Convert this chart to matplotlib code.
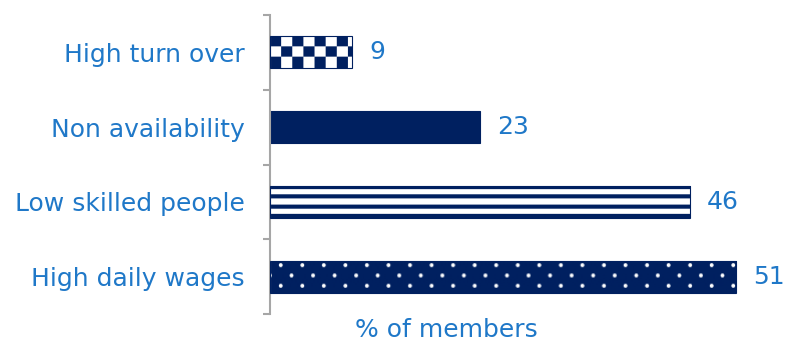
import numpy as np
import matplotlib.pyplot as plt
from matplotlib.ticker import FixedLocator

## Data
reasons = ['High turn over', 'Non availability', 'Low skilled people', 'High daily wages']
members = [9, 23, 46, 51]
fills = ['checker', 'solid', 'stripes', 'dots']

NAVY = np.array([0, 32, 96]) / 255.
WHITE = np.array([1., 1., 1.])
BLUE = '#1F78C8'
GREY = '#A6A6A6'
FS = 18


def texture(kind, w, h):
    # build a w x h pixel RGB fill (navy with white pattern)
    yy, xx = np.mgrid[0:h, 0:w] + 0.5
    if kind == 'checker':
        a = ((xx // 11 + yy // (h / 3.)) % 2 == 1).astype(float)
    elif kind == 'stripes':
        f = 0.4
        p = h / (3 + f)
        a = ((yy % p) >= p * f).astype(float)
    elif kind == 'dots':
        dx, dy = 21.5, 10.
        r = np.floor(yy / dy)
        cy = (r + 0.5) * dy
        off = (r % 2) * dx / 2
        cx = (np.floor((xx - off) / dx) + 0.5) * dx + off
        d = np.hypot(xx - cx, yy - cy)
        a = np.clip(2.4 - d, 0, 1)
    else:
        a = np.zeros((h, w))
    return NAVY * (1 - a[..., None]) + WHITE * a[..., None]


fig = plt.figure(figsize=(7.85, 3.46), dpi=100)
ax = fig.add_axes([0.344, 0.0925, 0.652, 0.864])

ypos = np.arange(len(reasons))
bars = ax.barh(ypos, members, height=0.43, color=NAVY, edgecolor=NAVY,
               linewidth=0.8, zorder=2)
ax.set_xlim(0, 56)
ax.set_ylim(len(reasons) - 0.5, -0.5)

# patterned fills, clipped to each bar
for patch, kind in zip(bars, fills):
    if kind == 'solid':
        continue
    x0, y0 = patch.get_x(), patch.get_y()
    x1, y1 = x0 + patch.get_width(), y0 + patch.get_height()
    (px0, py0), (px1, py1) = ax.transData.transform([(x0, y0), (x1, y1)])
    w, h = int(round(abs(px1 - px0))), int(round(abs(py1 - py0)))
    im = ax.imshow(texture(kind, w, h), extent=(x0, x1, y1, y0),
                   origin='upper', aspect='auto', interpolation='bilinear',
                   zorder=2.5)
    im.set_clip_path(patch)
    patch.set_facecolor('none')
    patch.set_zorder(3)

ax.set_xlim(0, 56)
ax.set_ylim(len(reasons) - 0.5, -0.5)

ax.bar_label(bars, labels=[str(v) for v in members], padding=12,
             color=BLUE, fontsize=FS)

## Axes styling
ax.set_yticks(ypos, reasons)
ax.yaxis.set_minor_locator(FixedLocator(np.arange(-0.5, len(reasons), 1)))
ax.tick_params(axis='y', which='major', length=0, pad=18,
               labelcolor=BLUE, labelsize=FS)
ax.tick_params(axis='y', which='minor', length=5, width=1.5,
               color=GREY, direction='out')
ax.set_xticks([])
for s in ['top', 'right', 'bottom']:
    ax.spines[s].set_visible(False)
ax.spines['left'].set_color(GREY)
ax.spines['left'].set_linewidth(1.5)

ax.set_xlabel('% of members', color=BLUE, fontsize=FS)
ax.xaxis.set_label_coords(0.344, -0.012)

plt.savefig('out.png', dpi=100)
